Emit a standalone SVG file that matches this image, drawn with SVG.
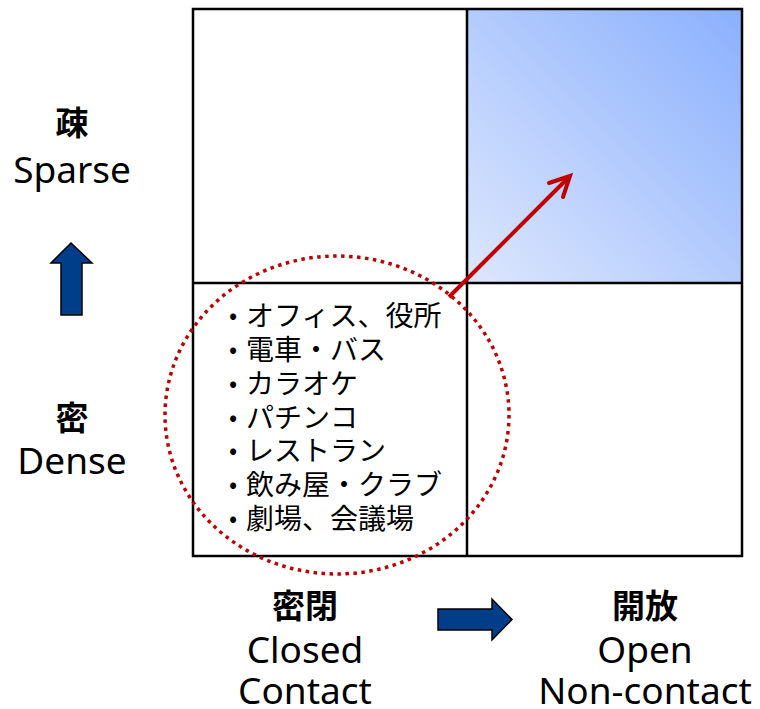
<svg xmlns="http://www.w3.org/2000/svg" width="760" height="709" viewBox="0 0 760 709">
<style>
.lat{font-family:"Noto Sans","Noto Sans CJK JP",sans-serif;font-size:37px;fill:#000;text-anchor:middle}
.jb{font-family:"Noto Sans CJK JP",sans-serif;font-size:33px;font-weight:bold;fill:#000;text-anchor:middle}
.li{font-family:"Noto Sans CJK JP",sans-serif;font-size:28px;fill:#000}
.bul{font-family:"Noto Sans CJK JP",sans-serif;font-size:24px;fill:#000;text-anchor:middle}
.grid{fill:none;stroke:#000;stroke-width:2.5}
.blue{fill:#003e8a;stroke:#000;stroke-width:1.5;stroke-linejoin:miter}
</style>
<defs>
<linearGradient id="g" x1="0" y1="1" x2="1" y2="0">
<stop offset="0" stop-color="#dde7fd"/>
<stop offset="1" stop-color="#8ab0fd"/>
</linearGradient>
</defs>
<rect width="760" height="709" fill="#fff"/>
<g id="grid">
<rect x="467" y="9" width="275" height="274" fill="url(#g)"/>
<rect class="grid" x="193" y="9" width="549" height="547"/>
<line class="grid" x1="467" y1="9" x2="467" y2="556"/>
<line class="grid" x1="193" y1="283" x2="742" y2="283"/>
</g>
<g id="list">
<g class="bul">
<text x="233" y="324">•</text>
<text x="233" y="358">•</text>
<text x="233" y="392">•</text>
<text x="233" y="426">•</text>
<text x="233" y="459">•</text>
<text x="233" y="493">•</text>
<text x="233" y="527">•</text>
</g>
<g class="li">
<text x="246" y="326">オフィス、役所</text>
<text x="246" y="360">電車・バス</text>
<text x="246" y="394">カラオケ</text>
<text x="246" y="428">パチンコ</text>
<text x="246" y="461">レストラン</text>
<text x="246" y="495">飲み屋・クラブ</text>
<text x="246" y="529">劇場、会議場</text>
</g>
</g>
<g id="circle">
<ellipse cx="337" cy="415" rx="172" ry="159" fill="none" stroke="#c00000" stroke-width="3.5" stroke-dasharray="3.5 4.5"/>
</g>
<g id="connectors">
<line x1="449" y1="297" x2="568" y2="178" stroke="#c00000" stroke-width="4"/>
<polyline points="549,183 570,176 563,197" fill="none" stroke="#c00000" stroke-width="4" stroke-linecap="round" stroke-linejoin="miter"/>
</g>
<g id="sparse">
<text class="jb" x="72" y="135">疎</text>
<text class="lat" x="72" y="183">Sparse</text>
</g>
<g id="up-arrow">
<polygon class="blue" points="71,243 92,263 82,263 82,315 61,315 61,263 51,263"/>
</g>
<g id="dense">
<text class="jb" x="72" y="430">密</text>
<text class="lat" x="72" y="474">Dense</text>
</g>
<g id="closed">
<text class="jb" x="305" y="618">密閉</text>
<text class="lat" x="305" y="663">Closed</text>
<text class="lat" x="305" y="704">Contact</text>
</g>
<g id="right-arrow">
<polygon class="blue" points="438,609 492,609 492,599 512,619.5 492,640 492,630 438,630"/>
</g>
<g id="open">
<text class="jb" x="645" y="618">開放</text>
<text class="lat" x="645" y="663">Open</text>
<text class="lat" x="645" y="704">Non-contact</text>
</g>
</svg>
